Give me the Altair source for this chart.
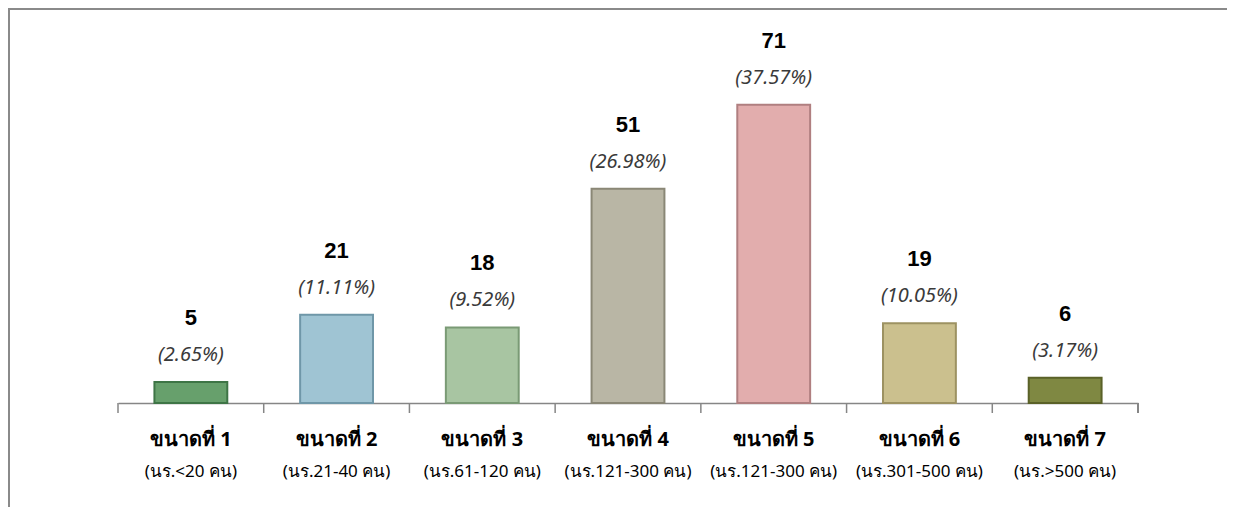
import altair as alt
import pandas as pd

categories = ["ขนาดที่ 1", "ขนาดที่ 2", "ขนาดที่ 3", "ขนาดที่ 4", "ขนาดที่ 5", "ขนาดที่ 6", "ขนาดที่ 7"]
sublabels = ["(นร.<20  คน)", "(นร.21-40 คน)", "(นร.61-120 คน)", "(นร.121-300 คน)",
             "(นร.121-300 คน)", "(นร.301-500 คน)", "(นร.>500 คน)"]
counts = [5, 21, 18, 51, 71, 19, 6]
percents = ["(2.65%)", "(11.11%)", "(9.52%)", "(26.98%)", "(37.57%)", "(10.05%)", "(3.17%)"]
fills = ["#67a06c", "#9fc4d3", "#a8c5a2", "#b9b6a5", "#e2adad", "#cbc08e", "#7f8842"]
strokes = ["#3e7546", "#6f97a8", "#7a9a75", "#8a8776", "#b07f80", "#9d9262", "#5a6128"]

df = pd.DataFrame({
    "cat": categories,
    "sub": sublabels,
    "count": counts,
    "pct": percents,
    "fill": fills,
    "stroke": strokes,
})

W, H = 1020, 336
xenc = alt.X("cat:N", sort=categories,
             scale=alt.Scale(paddingInner=0, paddingOuter=0),
             axis=alt.Axis(title=None, labels=False, ticks=False, domain=True,
                           domainColor="#868686", domainWidth=1.5, grid=False))
yscale = alt.Scale(domain=[0, 80])

base = alt.Chart(df)

bars = base.mark_bar(width={"band": 0.5}, strokeWidth=2).encode(
    x=xenc,
    y=alt.Y("count:Q", scale=yscale, axis=None),
    fill=alt.Fill("fill:N", scale=None),
    stroke=alt.Stroke("stroke:N", scale=None),
)

num_text = base.mark_text(font="Liberation Sans", fontSize=22, fontWeight="bold",
                          color="#000000", baseline="middle", dy=-64).encode(
    x=alt.X("cat:N", sort=categories),
    y=alt.Y("count:Q", scale=yscale),
    text="count:Q",
)

pct_text = base.mark_text(font="Noto Sans", fontSize=20, fontStyle="italic",
                          color="#3a3a3a", baseline="middle", dy=-27).encode(
    x=alt.X("cat:N", sort=categories),
    y=alt.Y("count:Q", scale=yscale),
    text="pct:N",
)

line1 = base.mark_text(font="Noto Sans", fontSize=20, fontWeight="bold",
                       color="#000000", baseline="middle").encode(
    x=alt.X("cat:N", sort=categories),
    y=alt.value(H + 37),
    text="cat:N",
)

line2 = base.mark_text(font="Noto Sans", fontSize=17,
                       color="#000000", baseline="middle").encode(
    x=alt.X("cat:N", sort=categories),
    y=alt.value(H + 69),
    text="sub:N",
)

ticks = base.mark_rule(color="#868686", strokeWidth=1.5).encode(
    x=alt.X("cat:N", sort=categories, bandPosition=0),
    y=alt.value(H),
    y2=alt.value(H + 10),
)

last_tick = base.mark_rule(color="#868686", strokeWidth=1.5).encode(
    x=alt.value(W),
    y=alt.value(H),
    y2=alt.value(H + 10),
)

border_top = base.mark_rule(color="#8a8a8a", strokeWidth=2).encode(
    x=alt.value(-110),
    x2=alt.value(W + 100),
    y=alt.value(-58),
)
border_left = base.mark_rule(color="#8a8a8a", strokeWidth=2).encode(
    x=alt.value(-109),
    y=alt.value(-58),
    y2=alt.value(H + 120),
)

chart = alt.layer(bars, ticks, last_tick, num_text, pct_text, line1, line2,
                  border_top, border_left).properties(
    width=W, height=H,
    padding={"left": 110, "top": 59, "right": 89, "bottom": 104},
    autosize=alt.AutoSizeParams(type="none"),
    background="white",
).configure_view(stroke=None)

chart.save("out.html", embed_options={"renderer": "svg", "actions": False})
